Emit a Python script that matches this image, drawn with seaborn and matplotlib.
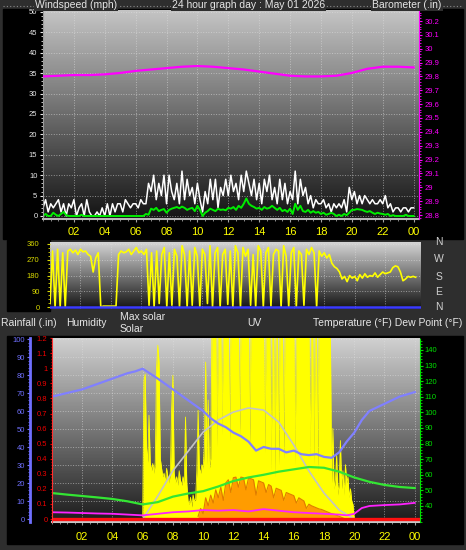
import numpy as np
import matplotlib
matplotlib.use('Agg')
import matplotlib.pyplot as plt
import seaborn as sns
from matplotlib.colors import LinearSegmentedColormap
from matplotlib.patches import Rectangle
from matplotlib.lines import Line2D
from matplotlib.ticker import MultipleLocator, FuncFormatter

plt.rcParams['font.family'] = ['Liberation Sans', 'DejaVu Sans']

# ---------------- data ----------------
hour_ticks = [2, 4, 6, 8, 10, 12, 14, 16, 18, 20, 22, 24]
hour_labels = ['02', '04', '06', '08', '10', '12', '14', '16', '18', '20', '22', '00']

# 10 minute samples, 00:00 -> 24:00
t10 = np.arange(145) / 6

gust_mph = [2, 4, 1, 3, 2, 3,
            4, 1, 3, 0, 3, 2,
            4, 0, 2, 3, 0, 4,
            1, 0, 0, 1, 0, 2,
            0, 3, 0, 3, 1, 3,
            3, 1, 4, 3, 2, 3,
            3, 2, 4, 3, 3, 8,
            6, 10, 4, 8, 5, 10,
            3, 10, 6, 4, 8, 3,
            11, 4, 9, 5, 7, 3,
            8, 4, 1, 6, 3, 9,
            4, 9, 2, 7, 5, 9,
            5, 10, 6, 8, 4, 10,
            6, 11, 8, 5, 9, 4,
            8, 3, 9, 6, 10, 4,
            7, 3, 9, 4, 8, 3,
            6, 4, 11, 3, 9, 5,
            7, 3, 5, 2, 4, 3,
            3, 4, 2, 3, 1, 3,
            2, 3, 2, 4, 1, 7,
            4, 6, 3, 5, 3, 5,
            4, 3, 4, 3, 3, 4,
            3, 5, 2, 3, 1, 2,
            2, 1, 2, 2, 1, 2,
            2]

wind_mph = [0, 0.5, 0, 0, 0.8, 0.3,
            0, 0.5, 1, 0.2, 0, 0,
            0, 0, 0, 0.3, 0, 0,
            0, 0, 0, 0, 0, 0,
            0, 0, 0, 0, 0, 0,
            0, 0, 0, 0, 0, 0,
            0, 0, 0, 0, 0.5, 0.3,
            1.8, 1.5, 2, 1.2, 1.5, 1.7,
            0.8, 1.5, 1.8, 2.0, 2.2, 1.9,
            2.3, 2.0, 1.5, 1.8, 2.0, 1.2,
            2.5, 1.5, 0, 0.8, 1.2, 1.8,
            1.5, 1.2, 1.8, 1.5, 1.6, 1.4,
            2.0, 1.8, 2.2, 1.5, 2.5, 2.0,
            3.0, 4.3, 3.0, 2.5, 2.2, 1.8,
            2.0, 1.5, 2.2, 1.8, 2.0, 2.5,
            2.0, 1.5, 2.0, 1.2, 1.5, 1.0,
            1.8, 0.5, 3.0, 1.5, 2.5, 1.2,
            1.0, 1.5, 0.8, 1.2, 0.8, 1.0,
            0.5, 0.8, 0.3, 0.5, 0.8, 0.5,
            0, 0.3, 0, 0.5, 0.2, 0.8,
            1.5, 1.5, 1.7, 1.6, 1.5, 1.2,
            1.0, 1.2, 0.8, 0.5, 0.8, 0.6,
            0.5, 0.3, 0.5, 0, 0.2, 0,
            0, 0, 0, 0.3, 0, 0,
            0]

wind_dir = [20, 320, 0, 330, 0, 310,
            0, 320, 330, 310, 325, 300,
            330, 315, 320, 300, 290, 200,
            280, 310, 0, 5, 5, 5,
            5, 5, 5, 300, 320, 310,
            315, 330, 300, 320, 340, 310,
            320, 300, 330, 10, 310, 0,
            320, 20, 300, 340, 0, 310,
            10, 330, 290, 0, 350, 300,
            0, 320, 10, 340, 290, 0,
            330, 300, 20, 350, 0, 310,
            340, 0, 300, 330, 15, 320,
            0, 350, 310, 0, 340, 290,
            330, 10, 300, 0, 350, 320,
            0, 310, 340, 5, 300, 330,
            320, 0, 350, 290, 0, 310,
            340, 0, 320, 300, 10, 330,
            300, 340, 310, 0, 320, 290,
            310, 280, 300, 250, 230, 220,
            200, 160, 175, 145, 180, 165,
            175, 150, 185, 165, 190, 170,
            180, 175, 195, 170, 185, 200,
            190, 195, 200, 225, 235, 230,
            200, 150, 160, 175, 170, 175,
            170]

baro_hours = list(range(25))
baro_in = [29.80, 29.805, 29.81, 29.81, 29.815, 29.825, 29.84, 29.85, 29.86, 29.87,
           29.875, 29.87, 29.86, 29.85, 29.835, 29.82, 29.805, 29.80, 29.80, 29.805,
           29.825, 29.855, 29.87, 29.87, 29.865]

# solar every 5 min from 06:00 to 20:00
solar_start = 6
solar_wm2 = [20, 1150, 1200, 600, 470, 860, 470, 400, 460, 380, 470, 1250,
             1440, 1300, 500, 420, 350, 380, 300, 420, 350, 300, 400, 920,
             1190, 380, 300, 350, 280, 400, 320, 280, 350, 300, 845, 300,
             150, 120, 180, 100, 200, 150, 160, 400, 900, 420, 380, 450,
             420, 600, 1300, 450, 986, 420, 500, 1600, 1600, 1600, 1600, 600,
             1600, 1600, 1600, 700, 1600, 1600, 1600, 1600, 1600, 650, 1600, 1600,
             1600, 1600, 1600, 1600, 1600, 700, 1600, 1600, 1600, 1600, 1600, 1600,
             1600, 600, 1600, 1600, 1600, 1600, 1600, 1600, 1600, 1600, 1600, 1600,
             1600, 550, 1600, 1600, 1600, 1600, 400, 1600, 1600, 350, 1600, 1600,
             450, 1600, 1600, 1600, 500, 1600, 1600, 1600, 1600, 1600, 1600, 1600,
             1600, 450, 1600, 1600, 1600, 1600, 1600, 1600, 1600, 1600, 1600, 1600,
             1600, 500, 1600, 1600, 450, 1600, 1600, 400, 1600, 1600, 1600, 1600,
             1600, 1600, 1600, 1600, 1600, 1600, 300, 750, 250, 320, 530, 200,
             300, 650, 250, 400, 200, 450, 300, 350, 180, 250, 150, 120,
             0]

max_solar_hours = list(range(6, 21))
max_solar_wm2 = [0, 190, 400, 560, 720, 820, 886, 920, 903, 804, 613, 398, 215, 75, 0]

# UV every 10 min from 09:40
uv_start = 9 + 40 / 60
uv_index = [0.5, 2.0,
            1.0, 4.0, 2.5, 4.5, 3.0, 5.5,
            4.0, 6.0, 3.5, 6.8, 7.4, 5.0,
            7.8, 7.9, 6.0, 7.9, 7.8, 5.5,
            7.7, 7.6, 7.4, 4.5, 7.2, 7.0,
            6.8, 5.0, 6.5, 6.2, 4.0, 5.8,
            5.6, 5.4, 3.5, 5.0, 4.8, 4.6,
            4.4, 3.0, 4.0, 3.7, 3.4, 2.0,
            2.8, 2.5, 2.3, 2.1, 1.9, 1.8,
            1.6, 1.4, 1.2, 1.0, 0.9, 0.7,
            0.5, 0.3, 0.1]

hum_hours = [0, 1, 2, 3, 4, 5, 5.5, 6, 7, 8, 9, 9.5, 10, 10.5, 11, 11.5, 12, 12.5, 13,
             13.5, 14, 14.5, 15, 15.5, 16, 16.5, 17, 17.5, 18, 18.5, 19, 19.5, 20, 20.5,
             21, 22, 23, 24]
hum_pct = [68, 70, 72, 75, 78, 81, 82, 83.5, 78, 72, 66, 63, 60, 56, 53, 51, 48, 46, 43,
           38, 40, 39, 39, 37, 38, 36, 35.5, 36, 34.5, 34, 37, 43, 48, 55,
           60, 64, 68, 70.5]

temp_hours = list(range(25))
temp_f = [48.3, 47.3, 46.4, 45.5, 44.5, 43, 41, 42.5, 46, 48, 49.5, 52.5, 56, 58.3, 60,
          62, 63.5, 65, 64.5, 62, 58.3, 55.5, 53.5, 52.2, 51.5]

dew_hours = [0, 1, 2, 3, 4, 5, 6, 7, 8, 9, 10, 11, 12, 13, 14, 15, 16, 17, 18, 19,
             19.5, 20, 20.5, 21, 22, 23, 24]
dew_f = [36, 35.8, 35.5, 35.2, 35, 34.5, 34, 35, 36, 36.5, 37.4, 37, 37.4, 36.5, 38, 37,
         36, 35.5, 35, 34.5, 34, 35, 38.7, 40, 40.6, 41, 42]

rain_hours = [0, 24.3]
rain_in = [0, 0]

wind_ticks = list(range(0, 51, 5))
baro_ticks = list(np.round(np.arange(28.8, 30.25, 0.1), 1))
dir_ticks = [0, 90, 180, 270, 360]
hum_ticks = list(range(0, 101, 10))
rain_ticks = list(np.round(np.arange(0, 1.25, 0.1), 1))
temp_ticks = list(range(40, 141, 10))

# ---------------- layout helpers ----------------
W, H = 466, 550
BG = '#2e2e2e'
fig = plt.figure(figsize=(W / 100, H / 100), dpi=100, facecolor=BG)


def rect(l, t, r, b):
    return [l / W, 1 - b / H, (r - l) / W, (b - t) / H]


def black(l, t, r, b, color='black'):
    fig.add_artist(Rectangle((l / W, 1 - b / H), (r - l) / W, (b - t) / H,
                             transform=fig.transFigure, color=color, zorder=-5))


def lim(v0, y0, v1, y1, top, bot):
    k = (v1 - v0) / (y1 - y0)
    return v0 + (bot - y0) * k, v0 + (top - y0) * k


def shade(ax, top, bottom):
    cmap = LinearSegmentedColormap.from_list('shade', [bottom, top])
    ax.imshow(np.linspace(0, 1, 200).reshape(-1, 1), cmap=cmap, aspect='auto',
              extent=(0, 1, 0, 1), origin='lower', transform=ax.transAxes, zorder=0)


def label(x, y, s, **kw):
    kw.setdefault('color', '#e6e6e6')
    kw.setdefault('fontsize', 7.5)
    fig.text(x / W, 1 - y / H, s, va='center', **kw)


fmt = FuncFormatter(lambda v, p: f'{v:g}')
grid_kw = dict(color='#e0e0e0', linestyle=':', linewidth=0.7, alpha=0.55)
XMAX = 24.35

black(3, 9, 463, 239)
black(7, 240, 50, 311)
black(7, 336, 463, 544)

# title strip
fig.add_artist(Line2D([3 / W, 463 / W], [1 - 6 / H, 1 - 6 / H], transform=fig.transFigure,
                      color='#8a8a8a', linestyle=(0, (1, 2)), linewidth=0.8, zorder=-4))
tb = dict(facecolor=BG, edgecolor='none', pad=1)
label(35, 5, 'Windspeed (mph)', bbox=tb)
label(172, 5, '24 hour graph day : May 01 2026', bbox=tb)
label(372, 5, 'Barometer (.in)', bbox=tb)

# ---------------- panel 1 : wind + barometer ----------------
ax1 = fig.add_axes(rect(43, 10, 419, 219))
shade(ax1, '#c4c4c4', '#141414')
sns.lineplot(x=t10, y=gust_mph, ax=ax1, color='white', linewidth=1.1)
sns.lineplot(x=t10, y=wind_mph, ax=ax1, color='#00ee00', linewidth=1.4)
ax1.set_xlim(0, XMAX)
ax1.set_ylim(*lim(0, 216, 50, 12, 10, 219))
ax1.set_xticks(hour_ticks)
ax1.set_xticklabels(hour_labels)
ax1.set_yticks(wind_ticks)
ax1.xaxis.set_minor_locator(MultipleLocator(0.5))
ax1.yaxis.set_minor_locator(MultipleLocator(1))
ax1.grid(True, which='major', **grid_kw)
ax1.tick_params(axis='x', which='both', colors='#a0a0a0', labelcolor='#ffff00',
                labelsize=8, length=2, pad=3.5)
ax1.tick_params(axis='x', which='minor', length=1.2)
ax1.tick_params(axis='y', which='both', colors='#e8e8e8', labelsize=5.5, length=2.5, pad=1.5)
ax1.tick_params(axis='y', which='minor', length=1.3)
ax1.set_xlabel('')
ax1.set_ylabel('')
ax1.spines['top'].set_visible(False)
ax1.spines['right'].set_visible(False)
ax1.spines['left'].set_color('#9a9a9a')
ax1.spines['bottom'].set_color('#b8b8b8')
ax1.spines['bottom'].set_linewidth(1.5)

ax1b = ax1.twinx()
sns.lineplot(x=baro_hours, y=baro_in, ax=ax1b, color='#ff00ff', linewidth=1.6)
ax1b.set_ylim(*lim(28.8, 215, 30.2, 21, 10, 219))
ax1b.set_yticks(baro_ticks)
ax1b.yaxis.set_major_formatter(fmt)
ax1b.yaxis.set_minor_locator(MultipleLocator(0.02))
ax1b.tick_params(axis='y', which='both', colors='#ff00ff', labelsize=5.5, length=2.2, pad=2)
ax1b.tick_params(axis='y', which='minor', length=1.2)
ax1b.set_ylabel('')
for s in ['top', 'bottom', 'left']:
    ax1b.spines[s].set_visible(False)
ax1b.spines['right'].set_color('#ff00ff')
ax1b.spines['right'].set_linestyle((0, (1, 1)))

# ---------------- panel 2 : wind direction ----------------
ax2 = fig.add_axes(rect(50, 242, 421, 309))
shade(ax2, '#d8d8d8', '#141414')
sns.lineplot(x=t10, y=wind_dir, ax=ax2, color='#ffff00', linewidth=1.2)
ax2.axhline(0, color='#3a3aff', linewidth=1.8)
ax2.set_xlim(0, XMAX)
ax2.set_ylim(*lim(0, 307, 360, 244, 242, 309))
ax2.set_xticks(hour_ticks[:-1])
ax2.set_yticks(dir_ticks)
ax2.yaxis.set_minor_locator(MultipleLocator(22.5))
ax2.grid(True, which='major', **grid_kw)
ax2.tick_params(axis='x', length=0, labelbottom=False)
ax2.tick_params(axis='y', which='both', colors='#d8d800', labelsize=5.5, length=2.5, pad=5)
ax2.tick_params(axis='y', which='minor', length=1.5)
ax2.set_xlabel('')
ax2.set_ylabel('')
for s in ax2.spines.values():
    s.set_visible(False)

for y, s in zip([242, 259, 277, 292, 307], ['N', 'W', 'S', 'E', 'N']):
    label(439, y, s, ha='center', fontsize=7.5, color='#d0d0d0')

# middle label row
label(1, 323, 'Rainfall (.in)')
label(66, 323, 'Humidity')
label(120, 317, 'Max solar')
label(120, 329, 'Solar')
label(247, 323, 'UV')
label(313, 323, 'Temperature (°F) Dew Point (°F)')

# ---------------- panel 3 : rain / humidity / solar / uv / temp ----------------
P3 = (338, 522)
ax3 = fig.add_axes(rect(52, 338, 420, 522))
shade(ax3, '#d0d0d0', '#1c1c1c')
ax3.set_xlim(0, XMAX)
ax3.set_ylim(*lim(0, 519, 100, 339, *P3))
ax3.set_xticks(hour_ticks)
ax3.set_xticklabels(hour_labels)
ax3.set_yticks(hum_ticks)
ax3.xaxis.set_minor_locator(MultipleLocator(0.5))
ax3.grid(True, which='major', **grid_kw)
ax3.tick_params(axis='x', which='both', colors='#a0a0a0', labelcolor='#ffff00',
                labelsize=8, length=2, pad=5)
ax3.tick_params(axis='x', which='minor', length=1.2)
for s in ['top', 'left', 'right']:
    ax3.spines[s].set_visible(False)
ax3.spines['bottom'].set_color('#c8c8c8')
ax3.spines['bottom'].set_linewidth(1.5)

# solar + max solar
axS = ax3.twinx()
solar_hours = solar_start + np.arange(len(solar_wm2)) / 12
axS.fill_between(solar_hours, 0, solar_wm2, color='#ffff00', linewidth=0)
sns.lineplot(x=solar_hours, y=solar_wm2, ax=axS, color='#ffff00', linewidth=0.6)
sns.lineplot(x=max_solar_hours, y=max_solar_wm2, ax=axS, color='#c4c4c4', linewidth=1.2)
axS.set_ylim(*lim(0, 519, 1500, 338, *P3))
axS.set_axis_off()

# UV
axU = ax3.twinx()
uv_hours = uv_start + np.arange(len(uv_index)) / 6
axU.fill_between(uv_hours, 0, uv_index, color='#ff9c00', linewidth=0)
sns.lineplot(x=uv_hours, y=uv_index, ax=axU, color='#e07a00', linewidth=0.8)
axU.set_ylim(*lim(0, 519, 10, 466, *P3))
axU.set_axis_off()

# humidity (outer left axis)
axH = ax3.twinx()
sns.lineplot(x=hum_hours, y=hum_pct, ax=axH, color='#8080ff', linewidth=1.6)
axH.set_ylim(*lim(0, 519, 100, 339, *P3))
axH.yaxis.tick_left()
axH.set_yticks(hum_ticks)
axH.yaxis.set_minor_locator(MultipleLocator(2))
axH.tick_params(axis='y', which='both', colors='#7070ff', labelsize=5.5, length=2.2, pad=1.5)
axH.tick_params(axis='y', which='minor', length=1.2)
axH.set_ylabel('')
for s in ['top', 'bottom', 'right']:
    axH.spines[s].set_visible(False)
axH.spines['left'].set_position(('outward', 15.8))
axH.spines['left'].set_color('#7070ff')
axH.spines['left'].set_linewidth(2)

# temperature + dew point (right axis)
axT = ax3.twinx()
sns.lineplot(x=temp_hours, y=temp_f, ax=axT, color='#33e633', linewidth=1.6)
sns.lineplot(x=dew_hours, y=dew_f, ax=axT, color='#ff22ff', linewidth=1.3)
axT.set_ylim(*lim(40, 506, 140, 350, *P3))
axT.set_yticks(temp_ticks)
axT.yaxis.set_minor_locator(MultipleLocator(2))
axT.tick_params(axis='y', which='both', colors='#00e000', labelsize=5.5, length=2, pad=1.5)
axT.tick_params(axis='y', which='minor', length=1.2)
axT.set_ylabel('')
for s in ['top', 'bottom', 'left']:
    axT.spines[s].set_visible(False)
axT.spines['right'].set_color('#00e000')
axT.spines['right'].set_linestyle((0, (1, 1)))

# rainfall (inner left axis)
axR = ax3.twinx()
sns.lineplot(x=rain_hours, y=rain_in, ax=axR, color='#ff1010', linewidth=2.4)
axR.set_ylim(-0.0198, 1.201)
axR.yaxis.tick_left()
axR.set_yticks(rain_ticks)
axR.yaxis.set_major_formatter(fmt)
axR.yaxis.set_minor_locator(MultipleLocator(0.02))
axR.tick_params(axis='y', which='both', colors='#ee0000', labelsize=5.5, length=1.8, pad=1.5)
axR.tick_params(axis='y', which='minor', length=1)
axR.set_ylabel('')
for s in ['top', 'bottom', 'right']:
    axR.spines[s].set_visible(False)
axR.spines['left'].set_color('#ff3030')
axR.spines['left'].set_linestyle((0, (1, 1)))
axR.set_xlim(0, XMAX)

# host y labels are only used for the grid
ax3.tick_params(axis='y', left=False, right=False, labelleft=False, labelright=False)

fig.savefig('out.png', dpi=100, facecolor=BG)
